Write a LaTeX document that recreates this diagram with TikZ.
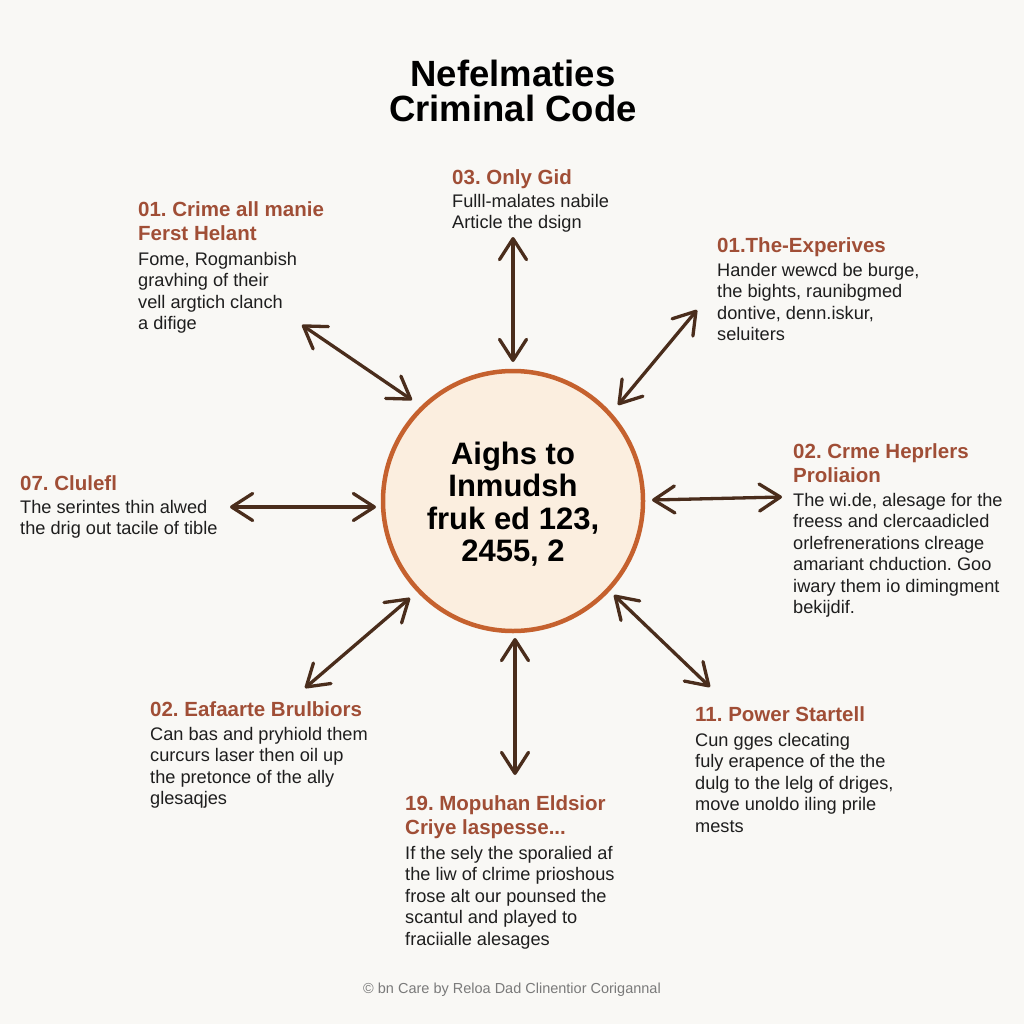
\documentclass[tikz,border=0pt]{standalone}
\usepackage{fontspec}
\setmainfont{Liberation Sans}
\usetikzlibrary{arrows.meta}
\frenchspacing
\definecolor{bgc}{HTML}{F9F8F5}
\definecolor{headc}{HTML}{A04E36}
\definecolor{bodyc}{HTML}{1E1E1E}
\definecolor{arrc}{HTML}{4A2D1C}
\definecolor{ringc}{HTML}{C5612E}
\definecolor{discc}{HTML}{FBEEDF}
\definecolor{footc}{HTML}{7A7A7A}
\tikzset{
  hd/.style={anchor=north west, inner sep=0pt, font=\fontsize{20.5}{24.5}\selectfont\bfseries, text=headc, align=left},
  bd/.style={anchor=north west, inner sep=0pt, font=\fontsize{18.2}{21.5}\selectfont, text=bodyc, align=left},
  dbl/.style={draw=arrc, line width=3.3pt, line cap=round,
    {Straight Barb[length=21pt,width=27pt,line cap=round,line join=round]}-{Straight Barb[length=21pt,width=27pt,line cap=round,line join=round]}}
}
\begin{document}
\begin{tikzpicture}[x=1pt,y=-1pt]
\fill[bgc] (0,0) rectangle (1024,1024);
\useasboundingbox (0,0) rectangle (1024,1024);

% title
\node[anchor=north, inner sep=0pt, align=center, font=\fontsize{36.5}{35}\selectfont\bfseries, text=black] (title) at (513,60) {Nefelmaties\\Criminal Code};

% central disc
\node[circle, minimum size=260pt, inner sep=0pt, draw=ringc, line width=4.5pt, fill=discc] (hub) at (513,501) {};
\node[align=center, inner sep=0pt, font=\fontsize{31}{32.5}\selectfont\bfseries, text=black] (hubtext) at (513,504) {Aighs to\\Inmudsh\\fruk ed 123,\\2455, 2};

% arrow end points
\coordinate (a1o) at (302,325); \coordinate (a1i) at (412,400);
\coordinate (a2o) at (513,237); \coordinate (a2i) at (513,362);
\coordinate (a3o) at (697,310); \coordinate (a3i) at (618,405);
\coordinate (a4o) at (230,507); \coordinate (a4i) at (376,507);
\coordinate (a5o) at (782,497); \coordinate (a5i) at (652,500);
\coordinate (a6o) at (305,688); \coordinate (a6i) at (410,598);
\coordinate (a7o) at (515,775); \coordinate (a7i) at (515,638);
\coordinate (a8o) at (710,687); \coordinate (a8i) at (614,595);
\foreach \k in {1,...,8} \draw[dbl] (a\k o) -- (a\k i);

% upper left
\node[hd] (h1) at (138,201) {01. Crime all manie\\Ferst Helant};
\node[bd] (b1) at (138,252) {Fome, Rogmanbish\\gravhing of their\\vell argtich clanch\\a difige};

% top
\node[hd] (h2) at (452,169) {03. Only Gid};
\node[bd] (b2) at (452,194) {Fulll-malates nabile\\Article the dsign};

% upper right
\node[hd] (h3) at (717,237) {01.The-Experives};
\node[bd] (b3) at (717,263) {Hander wewcd be burge,\\the bights, raunibgmed\\dontive, denn.iskur,\\seluiters};

% left
\node[hd] (h4) at (20,475) {07. Clulefl};
\node[bd] (b4) at (20,500) {The serintes thin alwed\\the drig out tacile of tible};

% right
\node[hd] (h5) at (793,443) {02. Crme Heprlers\\Proliaion};
\node[bd] (b5) at (793,493) {The wi.de, alesage for the\\freess and clercaadicled\\orlefrenerations clreage\\amariant chduction. Goo\\iwary them io dimingment\\bekijdif.};

% lower left
\node[hd] (h6) at (150,701) {02. Eafaarte Brulbiors};
\node[bd] (b6) at (150,727) {Can bas and pryhiold them\\curcurs laser then oil up\\the pretonce of the ally\\glesaqjes};

% bottom
\node[hd] (h7) at (405,795) {19. Mopuhan Eldsior\\Criye laspesse...};
\node[bd] (b7) at (405,846) {If the sely the sporalied af\\the liw of clrime prioshous\\frose alt our pounsed the\\scantul and played to\\fraciialle alesages};

% lower right
\node[hd] (h8) at (695,706) {11. Power Startell};
\node[bd] (b8) at (695,733) {Cun gges clecating\\fuly erapence of the the\\dulg to the lelg of driges,\\move unoldo iling prile\\mests};

% footer
\node[inner sep=0pt, font=\fontsize{14.5}{16}\selectfont, text=footc] (foot) at (512,990) {© bn Care by Reloa Dad Clinentior Corigannal};
\end{tikzpicture}
\end{document}
